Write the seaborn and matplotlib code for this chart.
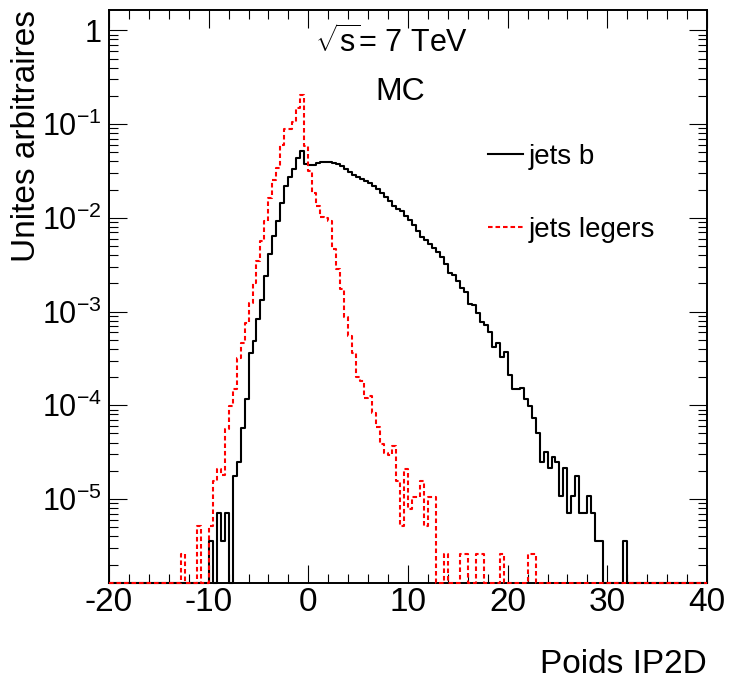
import numpy as np
import matplotlib
matplotlib.use('Agg')
import matplotlib.pyplot as plt
import seaborn as sns
from matplotlib.ticker import MultipleLocator, LogLocator, FuncFormatter, NullFormatter

# ── binning (0.4 wide bins from -20 to 40) ─────────────────────────
x_lo, x_hi, bin_w = -20.0, 40.0, 0.4

# ── jets b : bin contents starting at x = -10.0 ─────────────────────
b_start = -10.0
b_vals = [
    3.55e-6, 0, 7.1e-6, 3.55e-6, 7.1e-6, 0, 1.78e-5, 2.49e-5, 5.74e-5, 1.17e-4,
    3.63e-4, 4.83e-4, 8.38e-4, 1.32e-3, 2.39e-3, 4.07e-3, 6.4e-3, 9.25e-3, 1.45e-2, 2.19e-2,
    2.75e-2, 3.3e-2, 4.4e-2, 5.17e-2, 3.73e-2, 3.64e-2, 3.68e-2, 3.82e-2, 3.92e-2, 3.97e-2,
    3.92e-2, 3.82e-2, 3.73e-2, 3.6e-2, 3.3e-2, 3.06e-2, 2.84e-2, 2.75e-2, 2.62e-2, 2.47e-2,
    2.34e-2, 2.2e-2, 2.01e-2, 1.86e-2, 1.68e-2, 1.5e-2, 1.34e-2, 1.25e-2, 1.17e-2, 1.04e-2,
    9.4e-3, 8.4e-3, 7.2e-3, 6.3e-3, 5.75e-3, 5.2e-3, 4.8e-3, 4.28e-3, 3.83e-3, 3.18e-3,
    2.6e-3, 2.43e-3, 2.11e-3, 1.8e-3, 1.61e-3, 1.19e-3, 1.16e-3, 9.7e-4, 7.7e-4, 7.1e-4,
    6.03e-4, 4.2e-4, 4.56e-4, 3.29e-4, 3.68e-4, 2.08e-4, 1.5e-4, 1.5e-4, 1.53e-4, 1.17e-4,
    9.75e-5, 7.3e-5, 5.07e-5, 2.49e-5, 3.2e-5, 2.13e-5, 2.84e-5, 2.49e-5, 1.07e-5, 2.13e-5,
    7.1e-6, 1.07e-5, 1.78e-5, 7.1e-6, 7.1e-6, 1.07e-5, 7.1e-6, 3.55e-6, 3.55e-6, 0,
    0, 0, 0, 0, 3.55e-6,
]

# ── jets legers : bin contents starting at x = -12.8 ────────────────
l_start = -12.8
l_vals = [
    2.6e-6, 0, 0, 0, 5.2e-6, 0, 0, 5.2e-6, 1.56e-5, 2.08e-5,
    1.82e-5, 5.6e-5, 9.9e-5, 1.5e-4, 3.2e-4, 4.6e-4, 7.6e-4, 1.24e-3, 2.03e-3, 3.45e-3,
    5.65e-3, 9.2e-3, 1.64e-2, 2.54e-2, 3.44e-2, 5.94e-2, 8.8e-2, 8.9e-2, 0.104, 0.150,
    0.204, 5.85e-2, 3.16e-2, 1.86e-2, 1.34e-2, 1.02e-2, 1.0e-2, 9.2e-3, 4.6e-3, 2.87e-3,
    1.72e-3, 8.65e-4, 5.46e-4, 3.63e-4, 2.01e-4, 1.8e-4, 1.2e-4, 1.27e-4, 8.3e-5, 5.9e-5,
    3.9e-5, 3.1e-5, 2.97e-5, 3.7e-5, 1.56e-5, 5.2e-6, 2.08e-5, 7.8e-6, 1.04e-5, 1.04e-5,
    1.56e-5, 5.2e-6, 1.04e-5, 1.04e-5, 0, 0, 2.6e-6, 0, 0, 0,
    2.6e-6, 2.6e-6, 0, 0, 2.6e-6, 2.6e-6, 0, 0, 0, 0,
    2.6e-6, 0, 0, 0, 0, 0, 0, 2.6e-6, 2.6e-6,
]

labels = ['jets b', 'jets legers']
y_lo, y_hi = 1.28e-6, 1.65

edges = np.round(np.arange(x_lo, x_hi + bin_w / 2, bin_w), 6)
centers = edges[:-1] + bin_w / 2


def full_hist(start, vals):
    h = np.zeros(len(centers))
    i0 = int(round((start - x_lo) / bin_w))
    h[i0:i0 + len(vals)] = vals
    # empty bins are drawn on the bottom of the frame, like ROOT does
    return np.where(h > 0, h, y_lo)


plt.rcParams['font.family'] = ['Liberation Sans', 'DejaVu Sans']
plt.rcParams['mathtext.fontset'] = 'custom'
plt.rcParams['mathtext.rm'] = 'Liberation Sans'
plt.rcParams['mathtext.it'] = 'Liberation Sans:italic'
plt.rcParams['mathtext.bf'] = 'Liberation Sans:bold'
plt.rcParams['axes.unicode_minus'] = False

fig = plt.figure(figsize=(7.29, 6.83), dpi=100)
ax = fig.add_axes([0.1495, 0.1469, 0.8203, 0.8385])

sns.histplot(x=centers, weights=full_hist(b_start, b_vals), bins=list(edges),
             element='step', fill=False, color='black', linewidth=1.5,
             clip_on=False, zorder=3, ax=ax)
h_b = ax.lines[-1]
sns.histplot(x=centers, weights=full_hist(l_start, l_vals), bins=list(edges),
             element='step', fill=False, color='#ff0000', linewidth=1.5,
             linestyle=(0, (2.2, 1.4)), clip_on=False, zorder=3, ax=ax)
h_l = ax.lines[-1]

ax.set_yscale('log')
ax.set_xlim(x_lo, x_hi)
ax.set_ylim(y_lo, y_hi)

ax.xaxis.set_major_locator(MultipleLocator(10))
ax.xaxis.set_minor_locator(MultipleLocator(2))
ax.yaxis.set_major_locator(LogLocator(base=10, numticks=20))
ax.yaxis.set_minor_locator(LogLocator(base=10, subs=np.arange(2, 10), numticks=20))
ax.yaxis.set_minor_formatter(NullFormatter())


def log_fmt(v, pos):
    e = int(round(np.log10(v)))
    if e == 0:
        return '1'
    return r'$\mathdefault{10^{%d}}$' % e


ax.yaxis.set_major_formatter(FuncFormatter(log_fmt))

ax.tick_params(which='both', direction='in', top=True, right=True,
               width=0.8, color='black')
ax.tick_params(axis='x', which='major', length=13, pad=3, labelsize=24)
ax.tick_params(axis='x', which='minor', length=6.5)
ax.tick_params(axis='y', which='major', length=13, pad=5, labelsize=22)
ax.tick_params(axis='y', which='minor', length=6.5)
for s in ax.spines.values():
    s.set_linewidth(1.4)

ax.set_xlabel('Poids IP2D', fontsize=24, loc='right')
ax.xaxis.set_label_coords(1.0, -0.115)
ax.set_ylabel('Unites arbitraires', fontsize=24, loc='top')
ax.yaxis.set_label_coords(-0.112, 1.0)

ax.text(0.473, 0.944, r'$\sqrt{\mathrm{s}}$= 7 TeV', transform=ax.transAxes,
        ha='center', va='center', fontsize=22)
ax.text(0.487, 0.857, 'MC', transform=ax.transAxes,
        ha='center', va='center', fontsize=23)

ax.legend([h_b, h_l], labels, loc='center left', bbox_to_anchor=(0.634, 0.680),
          frameon=False, fontsize=20, handlelength=1.25, handletextpad=0.2,
          labelspacing=1.7, borderpad=0, borderaxespad=0)

fig.savefig('out.png', dpi=100, facecolor='white')
